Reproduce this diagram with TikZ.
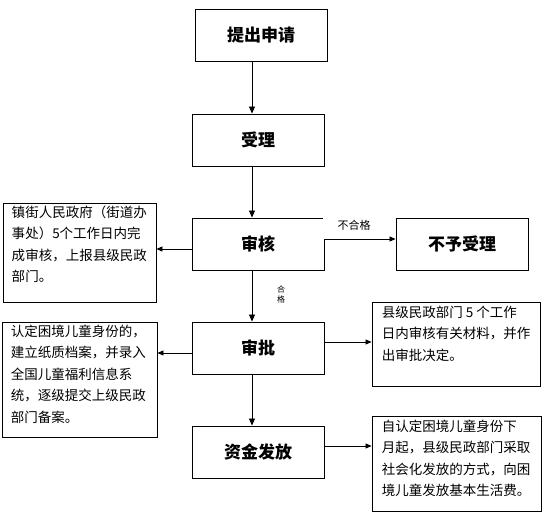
\documentclass[tikz,border=0pt]{standalone}
\usepackage{fontspec}
\setmainfont{Noto Sans CJK SC}
\usetikzlibrary{arrows.meta}
\begin{document}
\begin{tikzpicture}[x=1pt,y=-1pt,
  mainbox/.style={draw,line width=0.9pt,minimum width=132pt,minimum height=52pt,inner sep=0pt,font=\fontsize{17}{20}\selectfont\bfseries},
  sidebox/.style={draw,line width=0.9pt,inner sep=0pt},
  sidetext/.style={anchor=north west,inner sep=0pt,align=left,font=\fontsize{13.5}{21.5}\selectfont},
  arr/.style={line width=0.8pt,-{Triangle[length=7pt,width=6pt]}},
  sarr/.style={line width=0.8pt,-{Triangle[length=6pt,width=5pt]}},
  lbl/.style={inner sep=0pt,fill=white}]
\useasboundingbox (0,0) rectangle (553,526);
\fill[white] (0,0) rectangle (553,526);
\coordinate (axis) at (252,0);
% main boxes
\node[mainbox] (apply) at (261,35) {提出申请};
\node[mainbox] (accept) at (258,140) {受理};
\node[mainbox] (review) at (258,244) {审核};
\node[mainbox] (reject) at (462,244) {不予受理};
\node[mainbox] (approve) at (258,348) {审批};
\node[mainbox] (fund) at (258,452) {资金发放};
% side boxes
\node[sidebox,minimum width=153pt,minimum height=99pt] (left1) at (79.5,252.5) {};
\node[sidebox,minimum width=155pt,minimum height=115pt] (left2) at (79.5,379.5) {};
\node[sidebox,minimum width=168pt,minimum height=84pt] (right1) at (456,344) {};
\node[sidebox,minimum width=169pt,minimum height=95pt] (right2) at (456.5,463.5) {};
\node[sidetext] (t1) at ([xshift=9pt,yshift=-3pt]left1.north west) {镇街人民政府（街道办\\事处）5个工作日内完\\成审核，上报县级民政\\部门。};
\node[sidetext] (t2) at ([xshift=9pt,yshift=-3pt]left2.north west) {认定困境儿童身份的，\\建立纸质档案，并录入\\全国儿童福利信息系\\统，逐级提交上级民政\\部门备案。};
\node[sidetext] (t3) at ([xshift=10pt,yshift=-4pt]right1.north west) {县级民政部门 5 个工作\\日内审核有关材料，并作\\出审批决定。};
\node[sidetext] (t4) at ([xshift=10pt,yshift=-4pt]right2.north west) {自认定困境儿童身份下\\月起，县级民政部门采取\\社会化发放的方式，向困\\境儿童发放基本生活费。};
% vertical arrows
\draw[arr] (apply.south -| axis) -- (accept.north -| axis);
\draw[arr] (accept.south -| axis) -- (review.north -| axis);
\draw[arr] (review.south -| axis) -- (approve.north -| axis);
\draw[arr] (approve.south -| axis) -- (fund.north -| axis);
% side arrows
\coordinate (yrej) at (0,239);
\coordinate (yl1) at (0,249);
\coordinate (yl2) at (0,353);
\coordinate (yr1) at (0,342);
\coordinate (yr2) at (0,446);
% label background hides upper part of the right edge of the review box
\fill[white] ([xshift=-1pt,yshift=1pt]review.north east) rectangle ([xshift=1pt,yshift=-0.5pt]review.east |- yrej);
\draw[sarr] (review.east |- yrej) -- (reject.west |- yrej);
\draw[sarr] (review.west |- yl1) -- (left1.east |- yl1);
\draw[sarr] (approve.west |- yl2) -- (left2.east |- yl2);
\draw[sarr] (approve.east |- yr1) -- (right1.west |- yr1);
\draw[sarr] (fund.east |- yr2) -- (right2.west |- yr2);
% labels
\node[lbl,font=\fontsize{11}{13}\selectfont,inner xsep=2pt,inner ysep=3pt] (fail) at (354,225) {不合格};
\node[inner sep=0pt,align=center,font=\fontsize{8}{10}\selectfont] (pass) at (281,294) {合\\格};
\end{tikzpicture}
\end{document}
